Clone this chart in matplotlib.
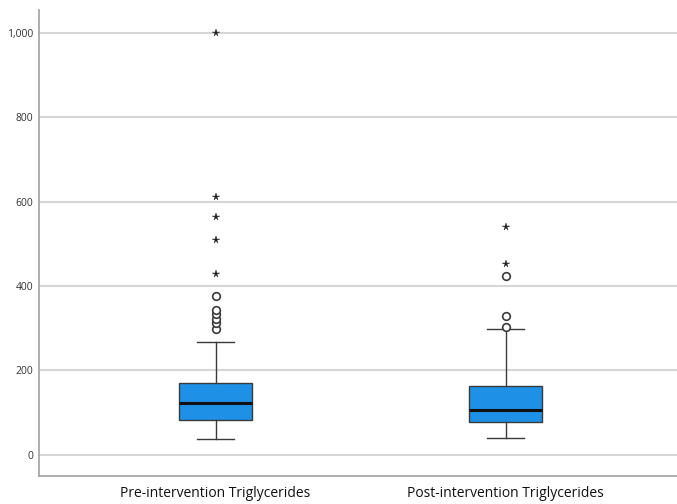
import matplotlib.pyplot as plt
import numpy as np

labels = ['Pre-intervention Triglycerides', 'Post-intervention Triglycerides']

# box stats (whisker low, Q1, median, Q3, whisker high)
whislo = [37, 39]
q1 = [83, 77]
med = [122, 107]
q3 = [170, 164]
whishi = [267, 299]

# outliers: circles (mild) and stars (extreme)
pre_circles = [298, 312, 322, 333, 344, 377]
pre_stars = [429, 509, 563, 610, 1000]
post_circles = [303, 329, 424]
post_stars = [452, 541]

plt.rcParams['font.family'] = ['Open Sans', 'DejaVu Sans']

fig = plt.figure(figsize=(6.77, 5.04), dpi=100)
ax = fig.add_axes([0.0576, 0.0556, 0.9424, 0.9244])

stats = []
for i in range(2):
    stats.append({'whislo': whislo[i], 'q1': q1[i], 'med': med[i],
                  'q3': q3[i], 'whishi': whishi[i], 'fliers': []})

ax.bxp(stats, positions=[1, 2], widths=0.252, capwidths=[0.126, 0.126],
       showfliers=False, patch_artist=True,
       boxprops=dict(facecolor='#1e90e6', edgecolor='#3a3a3a', linewidth=1.0),
       medianprops=dict(color='#111111', linewidth=2.2),
       whiskerprops=dict(color='#3a3a3a', linewidth=1.0),
       capprops=dict(color='#3a3a3a', linewidth=1.0), zorder=3)

circles = [pre_circles, post_circles]
stars = [pre_stars, post_stars]
for i in range(2):
    ax.plot([i + 1] * len(circles[i]), circles[i], 'o', ms=5.5, mfc='white',
            mec='#3a3a3a', mew=1.2, zorder=4)
    ax.plot([i + 1] * len(stars[i]), stars[i], '*', ms=5.5, color='#222222',
            mew=0.3, zorder=4)

ax.set_xlim(0.391, 2.591)
ax.set_ylim(-50, 1054)
ax.set_yticks(range(0, 1001, 200))
ax.set_yticklabels(['{:,}'.format(v) for v in range(0, 1001, 200)], fontsize=7.5, color='#333333')
ax.set_xticks([1, 2])
ax.set_xticklabels(labels, fontsize=10, color='#111111')
ax.tick_params(length=0, pad=4)
ax.tick_params(axis='x', pad=7)

ax.yaxis.grid(True, color='#d6d6d6', linewidth=1.5)
ax.set_axisbelow(True)
for s in ['top', 'right']:
    ax.spines[s].set_visible(False)
for s in ['left', 'bottom']:
    ax.spines[s].set_color('#a8a8a8')
    ax.spines[s].set_linewidth(1.3)

fig.savefig('out.png', dpi=100)
